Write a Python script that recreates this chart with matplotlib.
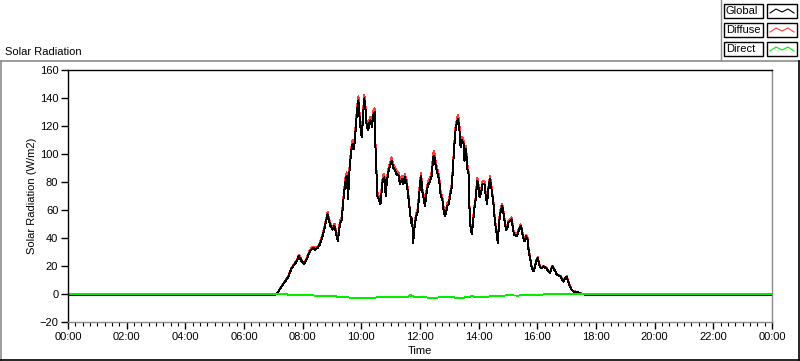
import matplotlib
matplotlib.use('Agg')
import matplotlib.pyplot as plt
from matplotlib.patches import Rectangle
from matplotlib.lines import Line2D
from matplotlib.ticker import MultipleLocator

plt.rcParams['font.family'] = ['Liberation Sans', 'DejaVu Sans']
plt.rcParams['font.size'] = 8

# Данные
global_times = ['00:00', '07:03', '07:10', '07:17', '07:24', '07:31', '07:36', '07:41', '07:48', '07:52',
                '07:58', '08:03', '08:08', '08:13', '08:17', '08:22', '08:25', '08:31', '08:35', '08:40',
                '08:44', '08:48', '08:51', '08:54', '08:57', '09:01', '09:05', '09:09', '09:12', '09:16',
                '09:20', '09:23', '09:27', '09:30', '09:33', '09:35', '09:39', '09:42', '09:45', '09:47',
                '09:51', '09:54', '09:56', '09:59', '10:01', '10:04', '10:06', '10:09', '10:11', '10:14',
                '10:16', '10:19', '10:22', '10:24', '10:27', '10:28', '10:30', '10:33', '10:37', '10:39',
                '10:41', '10:44', '10:47', '10:50', '10:52', '10:55', '10:59', '11:02', '11:05', '11:09',
                '11:12', '11:16', '11:19', '11:23', '11:26', '11:29', '11:33', '11:36', '11:40', '11:42',
                '11:44', '11:46', '11:49', '11:52', '11:55', '11:57', '12:00', '12:02', '12:05', '12:08',
                '12:10', '12:14', '12:17', '12:20', '12:24', '12:27', '12:29', '12:32', '12:35', '12:39',
                '12:42', '12:46', '12:48', '12:51', '12:54', '12:56', '12:59', '13:02', '13:05', '13:08',
                '13:10', '13:13', '13:16', '13:18', '13:21', '13:23', '13:26', '13:29', '13:31', '13:34',
                '13:37', '13:39', '13:41', '13:43', '13:46', '13:48', '13:51', '13:54', '13:57', '13:59',
                '14:02', '14:05', '14:08', '14:12', '14:14', '14:17', '14:20', '14:23', '14:25', '14:28',
                '14:31', '14:33', '14:37', '14:39', '14:42', '14:45', '14:48', '14:50', '14:53', '14:56',
                '14:59', '15:01', '15:04', '15:07', '15:10', '15:12', '15:18', '15:23', '15:26', '15:28',
                '15:31', '15:34', '15:37', '15:40', '15:42', '15:45', '15:48', '15:51', '15:53', '15:56',
                '15:59', '16:01', '16:04', '16:07', '16:10', '16:12', '16:18', '16:23', '16:26', '16:29',
                '16:31', '16:37', '16:40', '16:45', '16:48', '16:51', '16:53', '16:57', '17:00', '17:03',
                '17:07', '17:10', '17:14', '17:21', '17:27', '17:31', '17:45', '24:00']

global_vals = [-0.8, -0.8, 1.7, 5.3, 8.9, 12.5, 17.3, 20.2, 23.3, 27.4,
               23.3, 21.6, 24.5, 29.3, 31.7, 32.9, 31.7, 32.9, 35.3, 40.1,
               46.0, 52.0, 56.9, 52.0, 48.5, 46.0, 48.5, 42.5, 37.7, 49.7,
               53.3, 66.0, 79.7, 84.5, 67.7, 84.5, 101.3, 107.3, 103.7, 110.9,
               130.0, 138.4, 127.6, 115.7, 112.1, 130.0, 139.7, 130.0, 119.3, 116.9,
               121.7, 124.0, 119.3, 127.6, 130.0, 114.5, 94.1, 70.0, 66.5, 64.1,
               71.3, 82.1, 83.3, 70.0, 79.7, 86.9, 91.7, 95.3, 90.5, 88.1,
               85.7, 84.5, 78.5, 82.1, 78.5, 83.3, 78.5, 70.0, 56.9, 50.9,
               53.3, 36.5, 48.5, 55.0, 58.1, 65.3, 78.0, 84.5, 72.5, 67.7,
               62.9, 73.7, 78.5, 79.7, 84.5, 97.7, 98.9, 91.7, 86.9, 82.1,
               71.3, 66.5, 60.5, 55.7, 59.3, 62.9, 64.1, 71.3, 76.0, 92.9,
               104.9, 118.1, 122.9, 125.3, 115.7, 104.9, 109.7, 107.3, 95.3, 103.7,
               89.3, 88.1, 62.9, 48.5, 42.5, 49.7, 60.5, 67.7, 80.9, 78.5,
               68.9, 72.5, 78.5, 78.5, 71.3, 64.1, 74.9, 82.1, 78.5, 70.0,
               62.0, 52.0, 42.5, 36.5, 52.0, 59.3, 62.9, 59.3, 52.0, 46.0,
               47.3, 50.9, 52.0, 53.3, 47.3, 42.5, 41.3, 46.0, 48.5, 46.0,
               40.1, 37.7, 41.3, 38.9, 31.7, 25.7, 19.7, 16.1, 16.1, 20.9,
               24.5, 25.7, 20.9, 18.5, 18.5, 19.7, 18.5, 16.1, 14.9, 18.5,
               19.7, 16.0, 13.7, 13.0, 12.5, 10.1, 8.9, 11.3, 12.5, 8.9,
               5.3, 2.9, 1.7, 1.4, 0.7, 0.0, -0.8, -0.8]

diffuse_vals = [-0.8, -0.8, 1.7, 5.5, 9.2, 13.0, 17.8, 20.8, 24.0, 28.2,
                24.0, 22.3, 25.3, 30.2, 32.6, 33.9, 32.7, 34.0, 36.5, 41.5,
                47.5, 53.6, 58.6, 53.7, 50.2, 47.7, 50.3, 44.3, 39.5, 51.6,
                55.3, 68.2, 82.0, 86.9, 70.1, 87.0, 103.9, 110.0, 106.4, 113.7,
                132.9, 141.3, 130.4, 118.5, 114.8, 132.8, 142.5, 132.8, 122.0, 119.5,
                124.3, 126.6, 121.9, 130.2, 132.6, 117.0, 96.5, 72.4, 68.8, 66.4,
                73.6, 84.4, 85.6, 72.3, 82.0, 89.2, 94.0, 97.6, 92.8, 90.4,
                88.0, 86.8, 80.8, 84.4, 80.8, 85.6, 80.8, 72.3, 57.5, 51.5,
                54.5, 38.5, 50.8, 57.3, 60.4, 67.6, 80.3, 86.8, 74.8, 70.0,
                65.2, 76.2, 81.0, 82.4, 87.4, 100.8, 102.0, 94.6, 89.6, 84.5,
                73.5, 68.6, 62.6, 57.8, 61.4, 65.0, 66.2, 73.4, 78.2, 95.2,
                107.3, 120.6, 125.6, 128.2, 118.8, 107.9, 112.5, 110.0, 97.8, 106.1,
                91.5, 90.2, 64.9, 50.3, 44.2, 51.4, 62.3, 69.6, 82.9, 80.5,
                70.9, 74.5, 80.5, 80.4, 73.2, 66.0, 76.8, 84.0, 80.4, 71.8,
                63.8, 53.8, 44.2, 38.2, 53.7, 61.0, 64.6, 61.0, 53.6, 47.6,
                48.8, 52.4, 53.5, 54.8, 48.7, 43.8, 42.6, 47.3, 49.8, 47.2,
                41.3, 38.9, 42.5, 40.0, 32.8, 26.7, 20.6, 17.0, 17.0, 21.8,
                25.3, 26.4, 21.6, 19.1, 19.0, 20.2, 18.9, 16.5, 15.2, 18.8,
                20.0, 16.3, 13.9, 13.2, 12.7, 10.3, 9.1, 11.5, 12.7, 9.3,
                5.7, 3.3, 2.0, 1.6, 0.8, 0.0, -0.8, -0.8]

direct_times = ['00:00', '07:20', '07:30', '07:50', '08:10', '08:30', '08:50', '09:10', '09:25', '09:40',
                '09:50', '10:00', '10:10', '10:20', '10:35', '10:50', '11:05', '11:20', '11:35', '11:41',
                '11:48', '12:00', '12:15', '12:25', '12:35', '12:45', '13:00', '13:10', '13:20', '13:30',
                '13:45', '14:00', '14:15', '14:30', '14:45', '15:00', '15:20', '15:40', '16:00', '16:20',
                '16:40', '17:30', '24:00']
direct_vals = [0, 0, -0.4, -0.6, -0.8, -1.2, -1.4, -1.8, -2.3, -2.6,
               -3.0, -2.6, -3.2, -2.7, -2.4, -2.2, -2.4, -2.2, -2.3, -0.6,
               -2.0, -2.3, -2.5, -3.1, -2.6, -2.1, -2.1, -2.4, -3.1, -2.6,
               -1.7, -2.0, -1.9, -1.6, -1.2, -1.0, -1.1, -0.9, -0.6, -0.2,
               0, 0, 0]

x_ticklabels = ['00:00', '02:00', '04:00', '06:00', '08:00', '10:00', '12:00',
                '14:00', '16:00', '18:00', '20:00', '22:00', '00:00']


def to_hours(t):
    h, m = t.split(':')
    return int(h) + int(m) / 60


W, H = 800, 361


def fx(x):
    return x / W


def fy(y):
    return 1 - y / H


g_t = [to_hours(t) for t in global_times]
d_t = [to_hours(t) for t in direct_times]

fig = plt.figure(figsize=(8, 3.61), dpi=100)
fig.patch.set_facecolor('white')

# рамка панели
fig.add_artist(Line2D([fx(1), fx(1)], [fy(61), fy(359.5)], color='#8c8c8c', lw=1.2))
fig.add_artist(Line2D([fx(1), fx(799)], [fy(61), fy(61)], color='#8c8c8c', lw=1.2))
fig.add_artist(Line2D([fx(0), fx(799)], [fy(359.5), fy(359.5)], color='black', lw=1.2))
fig.add_artist(Line2D([fx(798.5), fx(798.5)], [fy(61), fy(360)], color='black', lw=1.2))

fig.text(fx(5), fy(52), 'Solar Radiation', ha='left', va='center', fontsize=8)

ax = fig.add_axes([fx(68), fy(322), fx(772 - 68), (322 - 70) / H])
ax.plot(g_t, diffuse_vals, color='#ff3b3b', lw=0.7, antialiased=False)
ax.plot(g_t, global_vals, color='black', lw=0.7, antialiased=False)
ax.plot(d_t, direct_vals, color='#00ee00', lw=0.7, antialiased=False)

ax.set_xlim(0, 24)
ax.set_ylim(-20, 160)
ax.set_xticks(range(0, 25, 2))
ax.set_xticklabels(x_ticklabels)
ax.xaxis.set_minor_locator(MultipleLocator(0.25))
ax.set_yticks(range(-20, 161, 20))
ax.tick_params(axis='both', direction='out', length=5, width=1, labelsize=8, pad=2)
ax.tick_params(axis='x', which='minor', direction='out', length=3, width=0.8)
ax.spines['left'].set_color('black')
ax.spines['top'].set_color('black')
ax.spines['right'].set_color('#8c8c8c')
ax.spines['bottom'].set_color('#8c8c8c')
for s in ax.spines.values():
    s.set_linewidth(1)
ax.set_xlabel('Time', fontsize=8, labelpad=3)
ax.set_ylabel('Solar Radiation (W/m2)', fontsize=8, labelpad=2)

# легенда
fig.add_artist(Line2D([fx(720.5), fx(720.5)], [fy(0), fy(60)], color='#8c8c8c', lw=1))
legend_names = ['Global', 'Diffuse', 'Direct']
legend_colors = ['black', '#ff3b3b', '#00ee00']
row_tops = [4, 23, 42]
for name, col, top in zip(legend_names, legend_colors, row_tops):
    fig.add_artist(Rectangle((fx(724), fy(top + 14)), fx(39), 14 / H, transform=fig.transFigure,
                             fill=False, edgecolor='black', lw=1))
    fig.text(fx(726), fy(top + 7), name, ha='left', va='center', fontsize=8)
    fig.add_artist(Rectangle((fx(767), fy(top + 14)), fx(30), 14 / H, transform=fig.transFigure,
                             fill=False, edgecolor='black', lw=1))
    zx = [770, 776, 782, 788, 794]
    zy = [top + 9, top + 5, top + 8, top + 5, top + 9]
    fig.add_artist(Line2D([fx(v) for v in zx], [fy(v) for v in zy], color=col, lw=0.8))

fig.savefig('out.png', dpi=100)
